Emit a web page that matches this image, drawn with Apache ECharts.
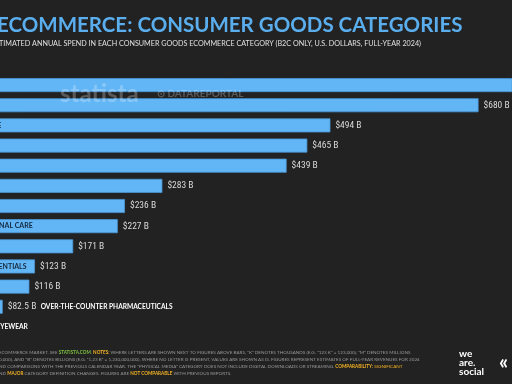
<!DOCTYPE html>
<html><head><meta charset="utf-8">
<script src="https://cdn.jsdelivr.net/npm/echarts@6/dist/echarts.min.js"></script>
<style>html,body{margin:0;padding:0;background:#222222;overflow:hidden;width:512px;height:384px;}#c{position:absolute;left:-63px;top:0;width:575px;height:384px;}</style>
</head><body><div id="c"></div>
<script>
var categories = ['FASHION','ELECTRONICS','HOBBY & LEISURE','FURNITURE','FOOD','DIY & GARDEN','BEVERAGES','BEAUTY & PERSONAL CARE','PHYSICAL MEDIA','HOUSEHOLD ESSENTIALS','PET FOOD','OVER-THE-COUNTER PHARMACEUTICALS','EYEWEAR'];
var values = [760, 680, 494, 465, 439, 283, 236, 227, 171, 123, 116, 82.5, 36];
var outsideNameRows = [11, 12];

function fmt(v){ return '$' + v + ' B'; }

var chart = echarts.init(document.getElementById('c'), null, {renderer:'canvas'});
var VF = "'Noto Sans ExtraCondensed', 'Noto Sans Condensed', 'Roboto Condensed', 'Open Sans Condensed', 'DejaVu Sans Condensed'";
var valueFont = {fontFamily:VF, fontSize:9.5, color:'#d9d9d9'};
var nameFont = {fontFamily:'Lato', fontWeight:'bold', fontSize:6.6, color:'#ffffff'};
var X = 63; // offset of visible area inside the wider canvas

var seriesData = values.map(function(v, i){
  var item = {value: v};
  if (outsideNameRows.indexOf(i) >= 0) {
    item.label = {formatter: function(p){ return '{v|' + fmt(p.value) + '}  {n|' + categories[p.dataIndex] + '}'; }};
  }
  return item;
});

var A = {font:'4.6px Lato', fill:'#9a9a9a'};
var G = {font:'bold 4.6px Lato', fill:'#7dc142'};
var O = {font:'bold 4.6px Lato', fill:'#f5b324'};
var P = {font:'4.6px Lato', fill:'#f5b324'};

chart.setOption({
  backgroundColor:'#222222',
  animation:false,
  grid:{left:0, right:0, top:75, height:262, containLabel:false},
  xAxis:{type:'value', min:0, max:722, show:false},
  yAxis:{type:'category', data:categories, inverse:true,
    axisLine:{show:false}, axisTick:{show:false}, splitLine:{show:false},
    axisLabel:{inside:true, margin:4, fontFamily:'Lato', fontWeight:'bold', fontSize:7, color:'#15283b',
      formatter:function(v, i){ return outsideNameRows.indexOf(i) >= 0 ? '' : v; }},
    z:10},
  series:[{type:'bar', data:seriesData, barWidth:14,
    itemStyle:{color:'#63B6F6', borderColor:'#4a97d6', borderWidth:0.8},
    label:{show:true, position:'right', distance:5,
      formatter:function(p){ return fmt(p.value); },
      fontFamily:VF, fontSize:9.5, color:'#d9d9d9',
      rich:{v:valueFont, n:nameFont}}
  }],
  graphic:[
    {type:'text', left:X-3, top:15, style:{text:'ECOMMERCE: CONSUMER GOODS CATEGORIES', font:'bold 20.5px Lato', fill:'#5AAEEE'}},
    {type:'text', left:X-9, top:40, style:{text:'ESTIMATED ANNUAL SPEND IN EACH CONSUMER GOODS ECOMMERCE CATEGORY (B2C ONLY, U.S. DOLLARS, FULL-YEAR 2024)', font:'7.2px Lato', fill:'#e0e0e0'}},
    {type:'text', left:X+60, top:82, z:100, style:{text:'statista', font:'bold 24px Lato', fill:'rgba(255,255,255,0.25)'}},
    {type:'text', left:X+157, top:89, z:100, style:{text:'\u2299 DATAREPORTAL', font:'bold 10px Lato', fill:'rgba(255,255,255,0.25)'}},
    {type:'text', left:X-1, top:350, style:{text:'{a|ECOMMERCE MARKET. SEE }{g|STATISTA.COM}{a|. }{o|NOTES:}{a| WHERE LETTERS ARE SHOWN NEXT TO FIGURES ABOVE BARS, "K" DENOTES THOUSANDS (E.G. "123 K" = 123,000), "M" DENOTES MILLIONS}', rich:{a:A, g:G, o:O}}},
    {type:'text', left:X-1, top:357, style:{text:'{a|0,000), AND "B" DENOTES BILLIONS (E.G. "1.23 B" = 1,230,000,000). WHERE NO LETTER IS PRESENT, VALUES ARE SHOWN AS IS. FIGURES REPRESENT ESTIMATES OF FULL-YEAR REVENUES FOR 2024}', rich:{a:A}}},
    {type:'text', left:X-1, top:364, style:{text:'{a|ND COMPARISONS WITH THE PREVIOUS CALENDAR YEAR. THE "PHYSICAL MEDIA" CATEGORY DOES NOT INCLUDE DIGITAL DOWNLOADS OR STREAMING. }{o|COMPARABILITY:}{p| SIGNIFICANT}', rich:{a:A, o:O, p:P}}},
    {type:'text', left:X-1, top:371, style:{text:'{a|ND }{o|MAJOR}{a| CATEGORY DEFINITION CHANGES. FIGURES ARE }{o|NOT COMPARABLE}{a| WITH PREVIOUS REPORTS.}', rich:{a:A, o:O}}},
    {type:'text', left:X+459, top:349, style:{text:'we\nare.\nsocial', font:'bold 10px Lato', lineHeight:9, fill:'#ffffff'}},
    {type:'text', left:X+499, top:353, style:{text:'\u00ab', font:'bold 20px Lato', fill:'#ffffff'}}
  ]
});
</script></body></html>
